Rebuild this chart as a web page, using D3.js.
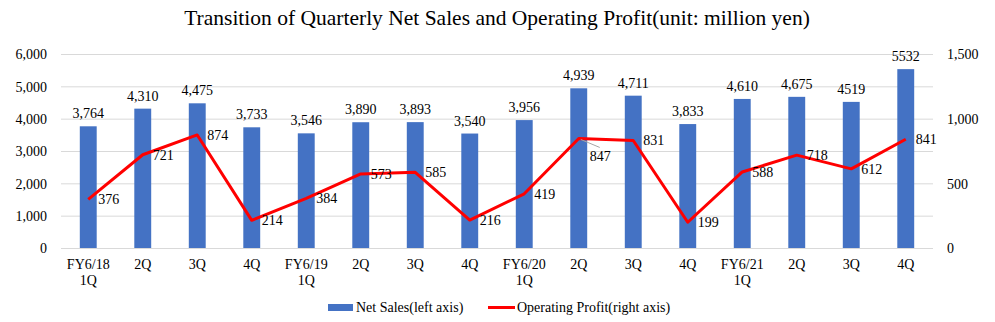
<!DOCTYPE html>
<html>
<head>
<meta charset="utf-8">
<script src="https://cdn.jsdelivr.net/npm/d3@7"></script>
<style>
	body { margin: 0; background: #fff; }
	text { font-family: "Liberation Serif", "Times New Roman", serif; fill: #000; }
</style>
</head>
<body>
<script>
// chart data
var quarters = ["FY6/18|1Q", "2Q", "3Q", "4Q", "FY6/19|1Q", "2Q", "3Q", "4Q",
	"FY6/20|1Q", "2Q", "3Q", "4Q", "FY6/21|1Q", "2Q", "3Q", "4Q"];
var netSales = [3764, 4310, 4475, 3733, 3546, 3890, 3893, 3540, 3956, 4939, 4711, 3833, 4610, 4675, 4519, 5532];
var salesLabels = ["3,764", "4,310", "4,475", "3,733", "3,546", "3,890", "3,893", "3,540",
	"3,956", "4,939", "4,711", "3,833", "4,610", "4,675", "4519", "5532"];
var opProfit = [376, 721, 874, 214, 384, 573, 585, 216, 419, 847, 831, 199, 588, 718, 612, 841];
var leftTicks = [0, 1000, 2000, 3000, 4000, 5000, 6000];
var rightTicks = [0, 500, 1000, 1500];

window.onload = function(){
	var w = 995, h = 322;
	var pLeft = 61, pRight = 933, pTop = 54, pBottom = 248;

	var svg = d3.select("body").append("svg")
		.attr("width", w)
		.attr("height", h);

	var x = d3.scaleBand()
		.domain(d3.range(quarters.length))
		.range([pLeft, pRight])
		.paddingInner(0.69)
		.paddingOuter(0.345);

	var yL = d3.scaleLinear().domain([0, 6000]).range([pBottom, pTop]);
	var yR = d3.scaleLinear().domain([0, 1500]).range([pBottom, pTop]);
	var cx = function(i){ return x(i) + x.bandwidth() / 2; };

	// title
	svg.append("text")
		.attr("x", 497)
		.attr("y", 25)
		.attr("text-anchor", "middle")
		.style("font-size", "21.5px")
		.text("Transition of Quarterly Net Sales and Operating Profit(unit: million yen)");

	// gridlines
	svg.append("g").selectAll("line")
		.data(leftTicks)
		.enter().append("line")
		.attr("x1", pLeft).attr("x2", pRight)
		.attr("y1", function(d){ return yL(d) + 0.5; })
		.attr("y2", function(d){ return yL(d) + 0.5; })
		.style("stroke", "#d9d9d9")
		.style("stroke-width", 1);

	// left axis
	var axL = svg.append("g")
		.attr("transform", "translate(" + (pLeft - 11) + ",0)")
		.call(d3.axisLeft(yL).tickValues(leftTicks).tickSize(0).tickFormat(d3.format(",")));
	axL.select(".domain").remove();
	axL.selectAll("text").style("font-size", "14px").attr("dy", "0.35em")
		.style("font-family", "Liberation Serif");

	// right axis
	var axR = svg.append("g")
		.attr("transform", "translate(" + (pRight + 11) + ",0)")
		.call(d3.axisRight(yR).tickValues(rightTicks).tickSize(0).tickFormat(d3.format(",")));
	axR.select(".domain").remove();
	axR.selectAll("text").style("font-size", "14px").attr("dy", "0.35em")
		.style("font-family", "Liberation Serif");

	// bars
	svg.selectAll(".bar")
		.data(netSales)
		.enter().append("rect")
		.attr("class", "bar")
		.attr("x", function(d, i){ return x(i); })
		.attr("y", function(d){ return yL(d); })
		.attr("width", x.bandwidth())
		.attr("height", function(d){ return pBottom - yL(d); })
		.style("fill", "#4472C4");

	// bar labels
	svg.selectAll(".barLabel")
		.data(netSales)
		.enter().append("text")
		.attr("class", "barLabel")
		.attr("x", function(d, i){ return cx(i); })
		.attr("y", function(d){ return yL(d) - 8; })
		.attr("text-anchor", "middle")
		.style("font-size", "14px")
		.text(function(d, i){ return salesLabels[i]; });

	// category labels
	svg.selectAll(".cat")
		.data(quarters)
		.enter().append("text")
		.attr("class", "cat")
		.attr("text-anchor", "middle")
		.style("font-size", "14px")
		.attr("y", 269)
		.each(function(d, i){
			var t = d3.select(this);
			d.split("|").forEach(function(p, k){
				t.append("tspan")
					.attr("x", cx(i))
					.attr("dy", k === 0 ? 0 : 16)
					.text(p);
			});
		});

	// profit line
	var line = d3.line()
		.x(function(d, i){ return cx(i); })
		.y(function(d){ return yR(d); });

	svg.append("path")
		.datum(opProfit)
		.attr("d", line)
		.style("fill", "none")
		.style("stroke", "#FF0000")
		.style("stroke-width", 3)
		.style("stroke-linejoin", "round");

	// leader line for the moved 847 label
	var moved = 9;
	svg.append("line")
		.attr("x1", cx(moved) + 2).attr("y1", yR(opProfit[moved]) + 1)
		.attr("x2", cx(moved) + 21).attr("y2", yR(opProfit[moved]) + 9)
		.style("stroke", "#a6a6a6")
		.style("stroke-width", 1);

	// profit labels
	svg.selectAll(".profLabel")
		.data(opProfit)
		.enter().append("text")
		.attr("class", "profLabel")
		.attr("x", function(d, i){ return cx(i) + (i === moved ? 11 : 10); })
		.attr("y", function(d, i){ return yR(d) + (i === moved ? 18 : 0); })
		.attr("dy", "0.35em")
		.style("font-size", "14px")
		.text(function(d){ return d; });

	// legend
	var lg = svg.append("g");
	lg.append("rect")
		.attr("x", 328).attr("y", 304)
		.attr("width", 25).attr("height", 7)
		.style("fill", "#4472C4");
	lg.append("text")
		.attr("x", 356).attr("y", 307).attr("dy", "0.35em")
		.style("font-size", "14px")
		.text("Net Sales(left axis)");
	lg.append("line")
		.attr("x1", 488).attr("x2", 515)
		.attr("y1", 307.5).attr("y2", 307.5)
		.style("stroke", "#FF0000")
		.style("stroke-width", 3);
	lg.append("text")
		.attr("x", 517).attr("y", 307).attr("dy", "0.35em")
		.style("font-size", "14px")
		.text("Operating Profit(right axis)");
};
</script>
</body>
</html>
